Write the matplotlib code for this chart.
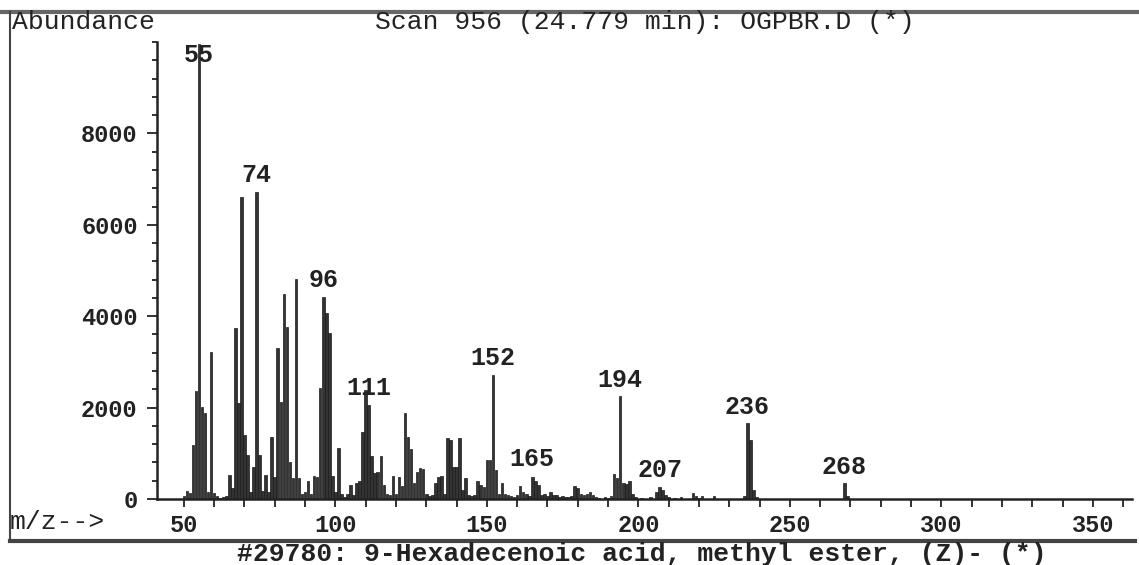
import matplotlib
matplotlib.use('Agg')
import matplotlib.pyplot as plt
from matplotlib.lines import Line2D
from matplotlib.ticker import MultipleLocator

# m/z values and abundances
mz = [50, 51, 52, 53, 54, 55, 56, 57, 58, 59, 60, 61, 62, 63, 64, 65, 66, 67, 68, 69,
      70, 71, 72, 73, 74, 75, 76, 77, 78, 79, 80, 81, 82, 83, 84, 85, 86, 87, 88, 89,
      90, 91, 92, 93, 94, 95, 96, 97, 98, 99, 100, 101, 102, 103, 104, 105, 106, 107, 108, 109,
      110, 111, 112, 113, 114, 115, 116, 117, 118, 119, 120, 121, 122, 123, 124, 125, 126, 127, 128, 129,
      130, 131, 132, 133, 134, 135, 136, 137, 138, 139, 140, 141, 142, 143, 144, 145, 146, 147, 148, 149,
      150, 151, 152, 153, 154, 155, 156, 157, 158, 159, 160, 161, 162, 163, 164, 165, 166, 167, 168, 169,
      170, 171, 172, 173, 174, 175, 176, 177, 178, 179, 180, 181, 182, 183, 184, 185, 186, 187, 189,
      190, 191, 192, 193, 194, 195, 196, 197, 198, 199, 201, 204, 206, 207, 208, 209,
      210, 212, 214, 218, 219, 220, 221, 225, 235, 236, 237, 238, 239, 268, 269]
abundance = [60, 180, 140, 1180, 2370, 9950, 2020, 1890, 160, 3220, 130, 60, 30, 40, 60, 525, 230, 3750, 2110, 6615,
             1400, 963, 160, 700, 6725, 963, 180, 525, 160, 1350, 490, 3300, 2130, 4485, 3770, 800, 450, 4810, 450, 100,
             150, 400, 100, 500, 480, 2420, 4420, 4060, 3625, 510, 150, 1108, 100, 50, 100, 300, 80, 350, 400, 1473,
             2385, 2057, 930, 560, 600, 950, 300, 100, 80, 510, 100, 480, 280, 1880, 1364, 1100, 350, 580, 680, 660,
             100, 60, 80, 350, 480, 500, 120, 1327, 1290, 700, 700, 1330, 200, 450, 80, 60, 80, 390, 300, 270,
             860, 860, 2713, 630, 100, 360, 120, 90, 70, 50, 80, 290, 160, 120, 60, 480, 400, 300, 90, 110,
             60, 160, 90, 90, 50, 70, 50, 40, 60, 280, 230, 120, 80, 100, 160, 90, 50, 30, 40,
             30, 60, 555, 450, 2245, 350, 320, 390, 120, 40, 30, 50, 150, 270, 190, 80,
             50, 30, 40, 130, 60, 30, 60, 60, 60, 1656, 1291, 200, 40, 343, 60]

# labelled peaks
peak_labels = [55, 74, 96, 111, 152, 165, 194, 207, 236, 268]
y_ticks = [0, 2000, 4000, 6000, 8000]

mono = 'Liberation Mono'
ink = '#222222'

fig = plt.figure(figsize=(11.39, 5.65), dpi=100, facecolor='white')
ax = fig.add_axes([157 / 1139, 66 / 565, (1132 - 157) / 1139, (499 - 42) / 565])

ax.bar(mz, abundance, width=0.85, color='#333333', edgecolor='#1a1a1a', linewidth=0.5)

ax.set_xlim(41.15, 362.9)
ax.set_ylim(0, 10000)

for s in ['top', 'right']:
    ax.spines[s].set_visible(False)
for s in ['left', 'bottom']:
    ax.spines[s].set_linewidth(1.8)
    ax.spines[s].set_color(ink)

ax.xaxis.set_major_locator(MultipleLocator(50))
ax.xaxis.set_minor_locator(MultipleLocator(10))
ax.set_yticks(y_ticks)
ax.yaxis.set_minor_locator(MultipleLocator(400))

ax.tick_params(axis='x', which='both', direction='out', length=5.5, width=1.3, color=ink)
ax.tick_params(axis='x', which='major', pad=5, labelsize=17)
ax.tick_params(axis='y', which='major', direction='out', length=7, width=1.3, color=ink, pad=7, labelsize=17)
ax.tick_params(axis='y', which='minor', direction='out', length=3.5, width=1.3, color=ink)

for lab in ax.get_xticklabels() + ax.get_yticklabels():
    lab.set_fontfamily(mono)
    lab.set_fontweight('bold')
    lab.set_color(ink)

# peak labels above the bars
lookup = dict(zip(mz, abundance))
extra = {165: 1}
for p in peak_labels:
    yv = min(lookup[p], 9360)
    ax.annotate(str(p), xy=(p, yv), xytext=(0, 12 + extra.get(p, 0)), textcoords='offset points',
                ha='center', va='center', fontsize=18, fontweight='bold', family=mono, color=ink)

# header / footer text
fig.text(12 / 1139, 1 - 22 / 565, 'Abundance', ha='left', va='center', fontsize=19, family=mono, color=ink)
fig.text(645 / 1139, 1 - 22 / 565, 'Scan 956 (24.779 min): OGPBR.D (*)', ha='center', va='center',
         fontsize=19, family=mono, color=ink)
fig.text(10 / 1139, 1 - 522 / 565, 'm/z-->', ha='left', va='center', fontsize=19, family=mono, color=ink)
fig.text(642 / 1139, 1 - 554 / 565, '#29780: 9-Hexadecenoic acid, methyl ester, (Z)- (*)', ha='center',
         va='center', fontsize=19, family=mono, fontweight='bold', color=ink)

# frame lines of the printout
top_y = 1 - 12 / 565
bot_y = 1 - 541 / 565
left_x = 10 / 1139
fig.add_artist(Line2D([0, 1], [top_y, top_y], color='#666666', lw=3))
fig.add_artist(Line2D([left_x, left_x], [bot_y, top_y], color='#444444', lw=1.5))
fig.add_artist(Line2D([left_x, 1135 / 1139], [bot_y, bot_y], color='#444444', lw=3))

fig.savefig('out.png', dpi=100, facecolor='white')
